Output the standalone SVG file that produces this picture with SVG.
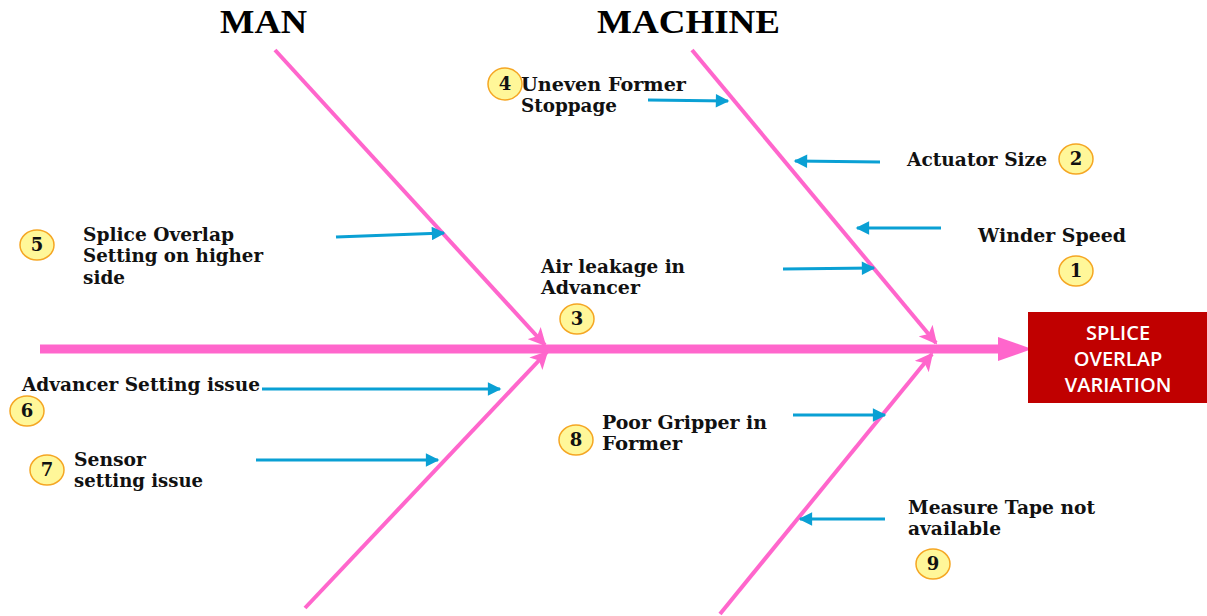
<svg xmlns="http://www.w3.org/2000/svg" width="1207" height="616" viewBox="0 0 1207 616">
<defs>
<marker id="pa" viewBox="0 0 10 10" refX="9" refY="5" markerWidth="4.5" markerHeight="4.5" markerUnits="strokeWidth" orient="auto"><path d="M0,0 L10,5 L0,10 L2.5,5 Z" fill="#FF66CC"/></marker>
<marker id="ba" viewBox="0 0 10 10" refX="9" refY="5" markerWidth="5" markerHeight="4.5" markerUnits="strokeWidth" orient="auto"><path d="M0,0 L10,5 L0,10 Z" fill="#0AA0D4"/></marker>
<style>
.bone{stroke:#FF66CC;stroke-width:4;fill:none}
.blue{stroke:#0AA0D4;stroke-width:3;fill:none;marker-end:url(#ba)}
.t{font-family:"DejaVu Serif","Liberation Serif",serif;font-weight:bold;font-size:18px;fill:#111}
.h{font-family:"Liberation Serif",serif;font-weight:bold;font-size:34px;fill:#000}
.num{fill:#FFF799;stroke:#F5A623;stroke-width:1.5}
.n{font-family:"DejaVu Serif",serif;font-weight:bold;font-size:18px;fill:#111;text-anchor:middle}
.bx{font-family:"Open Sans","Liberation Sans",sans-serif;font-weight:600;font-size:20px;fill:#fff;text-anchor:middle}
</style>
</defs>
<rect width="1207" height="616" fill="#fff"/>
<g id="headers">
<text class="h" x="220" y="33" textLength="87" lengthAdjust="spacingAndGlyphs">MAN</text>
<text class="h" x="597" y="33" textLength="183" lengthAdjust="spacingAndGlyphs">MACHINE</text>
</g>
<g id="connectors">
<line x1="40" y1="349" x2="1000" y2="349" stroke="#FF66CC" stroke-width="9"/>
<path d="M998,337 L1032,349 L998,361 Z" fill="#FF66CC"/>
<line class="bone" x1="275" y1="50" x2="545" y2="345" marker-end="url(#pa)"/>
<line class="bone" x1="692" y1="50" x2="936" y2="343" marker-end="url(#pa)"/>
<line class="bone" x1="305" y1="608" x2="547" y2="352" marker-end="url(#pa)"/>
<line class="bone" x1="720" y1="614" x2="932" y2="354" marker-end="url(#pa)"/>
<line class="blue" x1="648" y1="100" x2="728" y2="101"/>
<line class="blue" x1="880" y1="162" x2="795" y2="161"/>
<line class="blue" x1="941" y1="228" x2="857" y2="228"/>
<line class="blue" x1="783" y1="269" x2="874" y2="268"/>
<line class="blue" x1="336" y1="237" x2="444" y2="233"/>
<line class="blue" x1="262" y1="389" x2="500" y2="389"/>
<line class="blue" x1="256" y1="460" x2="438" y2="460"/>
<line class="blue" x1="793" y1="415" x2="885" y2="415"/>
<line class="blue" x1="885" y1="519" x2="800" y2="519"/>
</g>
<g id="effect">
<rect x="1028" y="312" width="179" height="91" fill="#C00000"/>
<text class="bx" x="1118" y="340">SPLICE</text>
<text class="bx" x="1118" y="366">OVERLAP</text>
<text class="bx" x="1118" y="392">VARIATION</text>
</g>
<g id="cause-1"><ellipse class="num" cx="1076" cy="271" rx="17" ry="15"/><text class="n" x="1076" y="277">1</text><text class="t" x="978" y="242" textLength="148" lengthAdjust="spacingAndGlyphs">Winder Speed</text></g>
<g id="cause-2"><ellipse class="num" cx="1076" cy="159" rx="17" ry="15"/><text class="n" x="1076" y="165">2</text><text class="t" x="907" y="166" textLength="140" lengthAdjust="spacingAndGlyphs">Actuator Size</text></g>
<g id="cause-3"><ellipse class="num" cx="577" cy="319" rx="17" ry="15"/><text class="n" x="577" y="325">3</text><text class="t" x="541" y="273" textLength="144" lengthAdjust="spacingAndGlyphs">Air leakage in</text><text class="t" x="541" y="294" textLength="99" lengthAdjust="spacingAndGlyphs">Advancer</text></g>
<g id="cause-4"><ellipse class="num" cx="505" cy="84" rx="17" ry="16"/><text class="n" x="505" y="90">4</text><text class="t" x="521" y="91" textLength="165" lengthAdjust="spacingAndGlyphs">Uneven Former</text><text class="t" x="521" y="112" textLength="96" lengthAdjust="spacingAndGlyphs">Stoppage</text></g>
<g id="cause-5"><ellipse class="num" cx="37" cy="245" rx="17" ry="15"/><text class="n" x="37" y="251">5</text><text class="t" x="83" y="241" textLength="151" lengthAdjust="spacingAndGlyphs">Splice Overlap</text><text class="t" x="83" y="262" textLength="180" lengthAdjust="spacingAndGlyphs">Setting on higher</text><text class="t" x="83" y="284" textLength="42" lengthAdjust="spacingAndGlyphs">side</text></g>
<g id="cause-6"><ellipse class="num" cx="27" cy="411" rx="17" ry="15"/><text class="n" x="27" y="417">6</text><text class="t" x="22" y="391" textLength="238" lengthAdjust="spacingAndGlyphs">Advancer Setting issue</text></g>
<g id="cause-7"><ellipse class="num" cx="47" cy="470" rx="17" ry="15"/><text class="n" x="47" y="476">7</text><text class="t" x="74" y="466" textLength="72" lengthAdjust="spacingAndGlyphs">Sensor</text><text class="t" x="74" y="487" textLength="129" lengthAdjust="spacingAndGlyphs">setting issue</text></g>
<g id="cause-8"><ellipse class="num" cx="576" cy="440" rx="17" ry="15"/><text class="n" x="576" y="446">8</text><text class="t" x="602" y="429" textLength="165" lengthAdjust="spacingAndGlyphs">Poor Gripper in</text><text class="t" x="602" y="450" textLength="80" lengthAdjust="spacingAndGlyphs">Former</text></g>
<g id="cause-9"><ellipse class="num" cx="933" cy="564" rx="17" ry="15"/><text class="n" x="933" y="570">9</text><text class="t" x="908" y="514" textLength="187" lengthAdjust="spacingAndGlyphs">Measure Tape not</text><text class="t" x="908" y="535" textLength="93" lengthAdjust="spacingAndGlyphs">available</text></g>
</svg>
